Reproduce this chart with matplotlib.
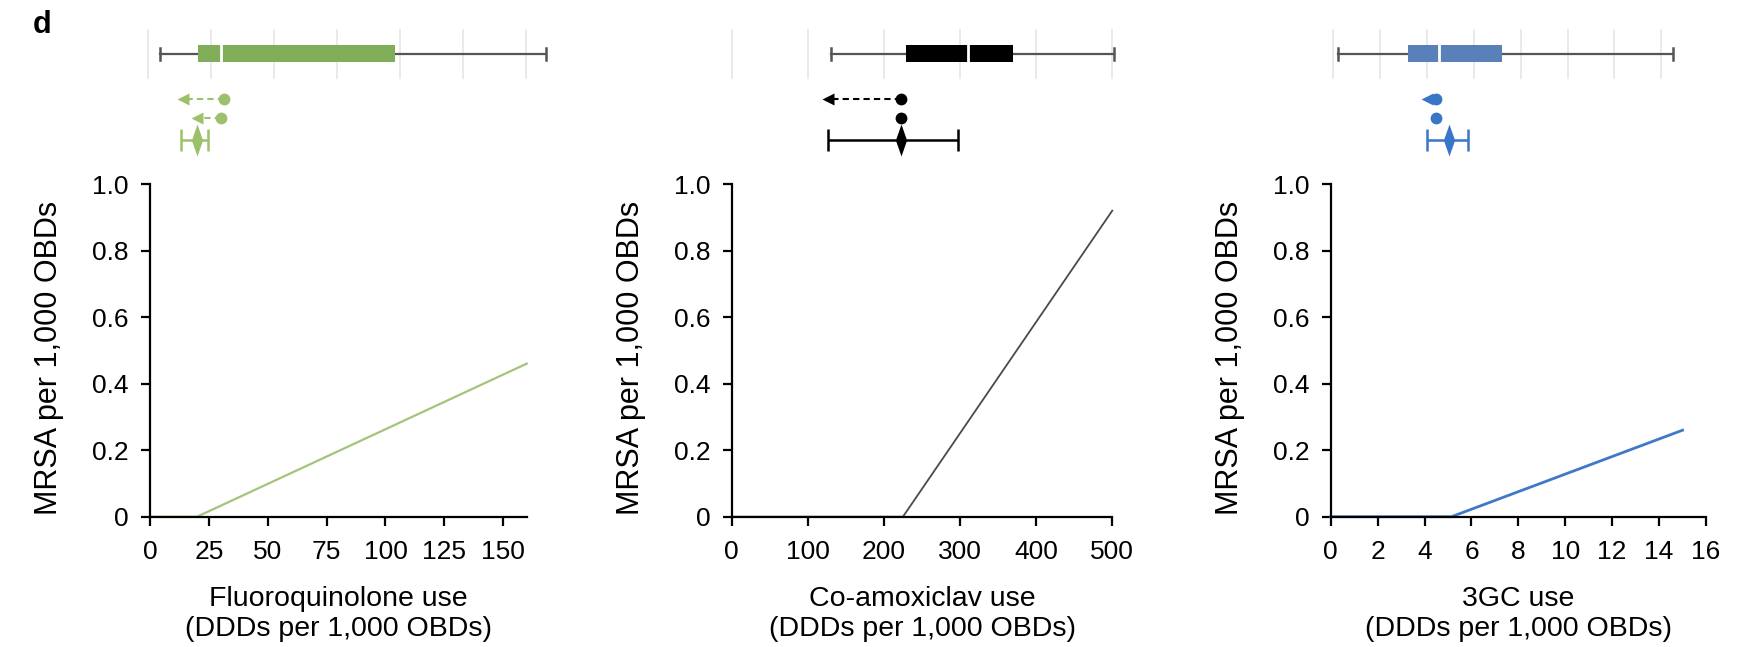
import numpy as np
import matplotlib
matplotlib.use("Agg")
import matplotlib.pyplot as plt

plt.rcParams.update({
    "font.family": ["Liberation Sans", "DejaVu Sans"],
    "font.size": 19,
    "axes.linewidth": 1.6,
    "xtick.major.width": 1.6,
    "ytick.major.width": 1.6,
    "xtick.major.size": 6.5,
    "ytick.major.size": 6.5,
})

W, H = 1760, 647

# ---- data ----
drugs = ["Fluoroquinolone", "Co-amoxiclav", "3GC"]
xlims = [(0, 160), (0, 500), (0, 16)]
xticks = [np.arange(0, 151, 25), np.arange(0, 501, 100), np.arange(0, 17, 2)]
# piecewise-linear fit: (x, y) knots
fit_x = [[0, 20, 160], [0, 225, 500], [0, 5.15, 15]]
fit_y = [[0, 0, 0.46], [0, 0, 0.92], [0, 0, 0.26]]
# usage distribution: whisker lo, Q1, median, Q3, whisker hi
box_stats = [[4.6, 19.6, 28.8, 98, 158],
             [130, 229, 310, 369, 503],
             [0.2, 3.2, 4.5, 7.2, 14.5]]
grid_lines = [np.arange(0, 151, 25), np.arange(0, 501, 100), np.arange(0, 15, 2)]
# row 1: dashed arrow (start -> tip), row 2: arrow or dot only
row1 = [(30, 13.8), (222, 127), (4.4, 4.0)]
row2 = [(29, 19.2), (222, None), (4.4, None)]
# row 3: estimate with interval
row3_est = [19.2, 222, 4.95]
row3_lo = [12.9, 127, 4.0]
row3_hi = [23.7, 297, 5.75]

box_col = ["#80AD57", "#000000", "#5A80BA"]
mark_col = ["#9DC06B", "#000000", "#3A76C8"]
line_col = ["#A3C47A", "#4A4A4A", "#3F78C8"]
line_w = [1.6, 1.3, 2.0]

# ---- layout (pixels) ----
main_lr = [(150, 526.7), (731.7, 1112.3), (1330.7, 1706)]
main_tb = (184, 516.7)
strip_x = [(-7, 165), (-20, 520), (-1, 15.5)]
strip_lr = [(148.3 + strip_x[0][0] * 2.52, 148.3 + strip_x[0][1] * 2.52),
            (731.7 + strip_x[1][0] * 0.761, 731.7 + strip_x[1][1] * 0.761),
            (1333.3 + strip_x[2][0] * 23.43, 1333.3 + strip_x[2][1] * 23.43)]
strip_tb = (20, 165)
Y_BOX, Y_R1, Y_R2, Y_R3 = 53.5, 99, 118, 140

fig = plt.figure(figsize=(W / 100, H / 100), dpi=100)


def px_axes(l, r, t, b):
    return fig.add_axes([l / W, 1 - b / H, (r - l) / W, (b - t) / H])


diamond = [(-0.35, 0), (0, 1), (0.35, 0), (0, -1)]

for i in range(3):
    # strip with distribution and estimates
    s = px_axes(strip_lr[i][0], strip_lr[i][1], strip_tb[0], strip_tb[1])
    s.set_xlim(*strip_x[i])
    s.set_ylim(strip_tb[1], strip_tb[0])
    s.axis("off")
    for g in grid_lines[i]:
        s.plot([g, g], [Y_BOX - 24, Y_BOX + 24], color="#E6E6E6", lw=1.2, zorder=0)
    lo, q1, med, q3, hi = box_stats[i]
    s.plot([lo, hi], [Y_BOX, Y_BOX], color="#555555", lw=1.6, zorder=1)
    s.plot([lo, lo], [Y_BOX - 6, Y_BOX + 6], color="#555555", lw=1.8)
    s.plot([hi, hi], [Y_BOX - 6, Y_BOX + 6], color="#555555", lw=1.8)
    s.fill_between([q1, q3], Y_BOX - 8.5, Y_BOX + 8.5, color=box_col[i], lw=0, zorder=2)
    s.plot([med, med], [Y_BOX - 8.5, Y_BOX + 8.5], color="white", lw=2, zorder=3)

    c = mark_col[i]
    x0, tip = row1[i]
    s.plot([x0, tip], [Y_R1, Y_R1], color=c, lw=1.5, ls=(0, (3, 2)))
    s.plot(tip, Y_R1, marker="<", color=c, ms=8.5, mec="none")
    s.plot(x0, Y_R1, marker="o", color=c, ms=8.5, mec="none")
    x0, tip = row2[i]
    if tip is not None:
        s.plot([x0, tip], [Y_R2, Y_R2], color=c, lw=1.5, ls=(0, (3, 2)))
        s.plot(tip, Y_R2, marker="<", color=c, ms=8.5, mec="none")
    s.plot(x0, Y_R2, marker="o", color=c, ms=8.5, mec="none")
    s.errorbar([row3_est[i]], [Y_R3],
               xerr=[[row3_est[i] - row3_lo[i]], [row3_hi[i] - row3_est[i]]],
               fmt="none", ecolor=c, elinewidth=1.8, capsize=8, capthick=1.8)
    s.plot(row3_est[i], Y_R3, marker=diamond, color=c, ms=23, mec="none")

    # main fit panel
    ax = px_axes(main_lr[i][0], main_lr[i][1], main_tb[0], main_tb[1])
    ax.plot(fit_x[i], fit_y[i], color=line_col[i], lw=line_w[i], clip_on=False)
    ax.set_xlim(*xlims[i])
    ax.set_ylim(0, 1.0)
    ax.set_xticks(xticks[i])
    ax.set_yticks([0, 0.2, 0.4, 0.6, 0.8, 1.0])
    ax.set_yticklabels(["0", "0.2", "0.4", "0.6", "0.8", "1.0"])
    for sp in ("top", "right"):
        ax.spines[sp].set_visible(False)
    ax.tick_params(axis="x", pad=10)
    ax.tick_params(axis="y", pad=9)
    ax.set_ylabel("MRSA per 1,000 OBDs", fontsize=22)
    ax.yaxis.set_label_coords(-86 / (main_lr[i][1] - main_lr[i][0]), 0.478)
    ax.set_xlabel(f"{drugs[i]} use\n(DDDs per 1,000 OBDs)", fontsize=20.5,
                  labelpad=16, linespacing=1.2)

fig.text(33 / W, 1 - 10 / H, "d", fontsize=22, fontweight="bold", va="top")

fig.savefig("out.png", dpi=100)
